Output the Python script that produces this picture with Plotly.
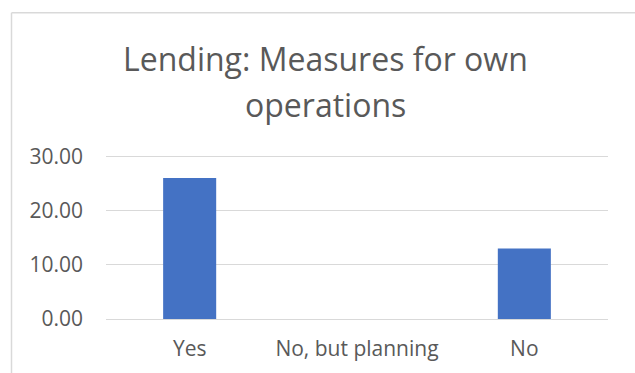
import plotly.graph_objects as go

# Survey answers and share of respondents
categories = ["Yes", "No, but planning", "No"]
values = [26.0, 0.0, 13.0]
y_ticks = [0, 10, 20, 30]
y_tick_labels = ["0.00", "10.00", "20.00", "30.00"]
title_lines = ["Lending: Measures for own", "operations"]

W, H = 635, 373
PLOT_L, PLOT_R = 106, 608
PX_PER_UNIT = 5.46
Y_MAX = 30.4
PLOT_B = 319.5
PLOT_T = PLOT_B - Y_MAX * PX_PER_UNIT

TEXT = "#595959"
GRID = "#d9d9d9"
BAR = "#4472C4"
FONT = "Open Sans"


def px_x(px):
    return (px - PLOT_L) / (PLOT_R - PLOT_L)


def px_y(py):
    return (PLOT_B - py) / (PLOT_B - PLOT_T)


fig = go.Figure(
    go.Bar(x=categories, y=values, marker=dict(color=BAR, line=dict(width=0)),
           hoverinfo="skip")
)

# Two-line chart title, spaced like the chart header
annotations = []
for text, center_y in zip(title_lines, [57, 104]):
    annotations.append(dict(
        text=text, xref="paper", yref="paper",
        x=px_x(325), y=px_y(center_y), xanchor="center", yanchor="middle",
        showarrow=False, font=dict(family=FONT, size=32, color=TEXT),
    ))

# Outer chart frame (top and left edges)
shapes = [
    dict(type="line", xref="paper", yref="paper",
         x0=px_x(11.5), x1=px_x(640), y0=px_y(11.5), y1=px_y(11.5),
         line=dict(color=GRID, width=1.5)),
    dict(type="line", xref="paper", yref="paper",
         x0=px_x(11.5), x1=px_x(11.5), y0=px_y(11.5), y1=px_y(380),
         line=dict(color=GRID, width=1.5)),
]

fig.update_layout(
    width=W, height=H,
    margin=dict(l=PLOT_L, r=W - PLOT_R, t=PLOT_T, b=H - PLOT_B, pad=0),
    paper_bgcolor="white", plot_bgcolor="white",
    bargap=0.683,
    showlegend=False,
    annotations=annotations,
    shapes=shapes,
    font=dict(family=FONT, size=21, color=TEXT),
)
fig.update_xaxes(
    showgrid=False, showline=False, zeroline=False,
    ticks="", ticklabelstandoff=15,
    tickfont=dict(family=FONT, size=21, color=TEXT),
)
fig.update_yaxes(
    range=[0, Y_MAX], tickvals=y_ticks, ticktext=y_tick_labels,
    showgrid=True, gridcolor=GRID, gridwidth=1,
    zeroline=True, zerolinecolor=GRID, zerolinewidth=1,
    showline=False, ticks="", ticklabelstandoff=22,
    tickfont=dict(family=FONT, size=21, color=TEXT),
)

fig.write_html("out.html", config={"displayModeBar": False})
